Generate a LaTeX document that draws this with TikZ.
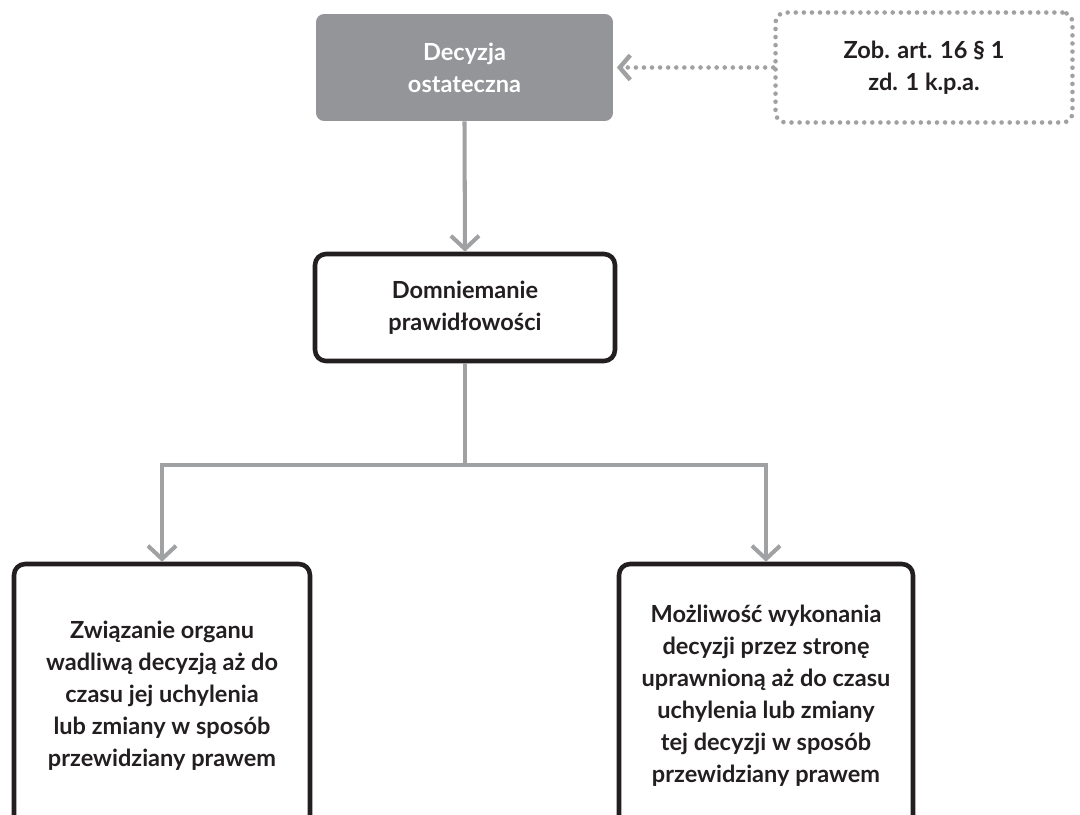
\documentclass[tikz,border=0pt]{standalone}
\usepackage{fontspec}
\setmainfont{Lato}
\usetikzlibrary{arrows.meta}
\definecolor{boxgray}{HTML}{939598}
\definecolor{linegray}{HTML}{A0A1A3}
\definecolor{ink}{HTML}{231F20}
\tikzset{
  txt/.style={font=\bfseries\fontsize{13.4}{18.2}\selectfont, align=center, text=ink},
  graybox/.style={txt, fill=boxgray, text=white, rounded corners=0.16cm,
    minimum width=5.94cm, minimum height=2.14cm},
  notebox/.style={txt, draw=linegray, line width=2.6pt, line cap=round,
    dash pattern=on 0pt off 4.6pt, rounded corners=0.2cm,
    minimum width=5.94cm, minimum height=2.2cm},
  blackbox/.style={txt, draw=ink, line width=2.6pt, rounded corners=0.22cm,
    fill=white},
  conn/.style={draw=linegray, line width=2.3pt,
    -{Straight Barb[length=7.5pt,width=16pt,line width=2.3pt]}},
  dotconn/.style={draw=linegray, line width=2.6pt, line cap=round,
    dash pattern=on 0pt off 4.6pt,
    -{Straight Barb[length=6pt,width=14pt,line width=2.5pt,line cap=butt]}},
}
\begin{document}
\begin{tikzpicture}[x=0.02cm, y=-0.02cm]
  \clip (0,0) rectangle (1080,815);
  \fill[white] (0,0) rectangle (1080,815);

  \node[graybox] (dec) at (464.5,67.5) {Decyzja\\ostateczna};
  \node[notebox] (zob) at (924,67.5) {Zob. art. 16 § 1\\zd. 1 k.p.a.};
  \node[blackbox, minimum width=6.0cm, minimum height=2.14cm] (dom) at (465,307.5)
    {Domniemanie\\prawidłowości};
  \node[blackbox, minimum width=5.92cm, minimum height=5.28cm] (left) at (162,696)
    {Związanie organu\\wadliwą decyzją aż do\\czasu jej uchylenia\\lub zmiany w sposób\\przewidziany prawem};
  \node[blackbox, minimum width=5.88cm, minimum height=5.28cm] (right) at (766,696)
    {Możliwość wykonania\\decyzji przez stronę\\uprawnioną aż do czasu\\uchylenia lub zmiany\\tej decyzji w sposób\\przewidziany prawem};

  \coordinate (split) at (465,465);

  \draw[dotconn, shorten >=2pt] (zob.west) -- (dec.east);
  \draw[conn] (dec.south) -- (dom.north);
  \draw[draw=linegray, line width=2.3pt] (dom.south) -- (split);
  \draw[conn] (split) -| (left.north);
  \draw[conn] (split) -| (right.north);
\end{tikzpicture}
\end{document}
